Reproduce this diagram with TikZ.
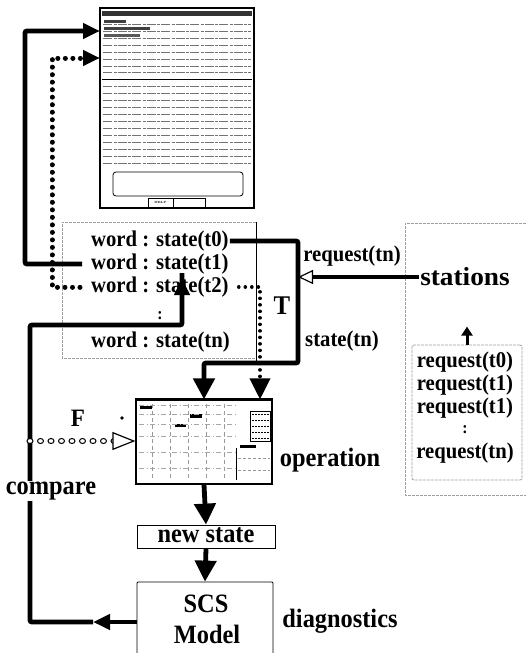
\documentclass[tikz,border=0pt]{standalone}
\usepackage{fontspec}
\newfontfamily\lblfont{Liberation Serif}[FakeStretch=0.92]
\newfontfamily\widefont{Liberation Serif}[FakeStretch=1.05]
\usetikzlibrary{arrows.meta,positioning,decorations.markings}

\tikzset{
  lbl/.style={font=\lblfont\bfseries\fontsize{22.5}{22.5}\selectfont, inner sep=1pt},
  biglbl/.style={font=\lblfont\bfseries\fontsize{26.5}{26.5}\selectfont, inner sep=1pt},
  dotslbl/.style={font=\lblfont\bfseries\fontsize{17}{17}\selectfont, inner sep=0pt},
  win/.style={draw, line width=1.2pt, inner sep=0pt},
  greybox/.style={draw=gray!75, line width=0.8pt, dash pattern=on 3pt off 1pt},
  thickline/.style={line width=4.8pt, rounded corners=2pt},
  flowsmall/.style={thickline, -{Triangle[length=17pt,width=15pt]}},
  flowbig/.style={thickline, -{Triangle[length=21pt,width=21pt]}},
  beads/.style={line width=5pt, line cap=round, dash pattern=on 0.01pt off 7.5pt},
  tbeads/.style={line width=3.6pt, line cap=round, dash pattern=on 0.01pt off 6.5pt},
  scrline/.style={black!55, line width=0.7pt, dash pattern=on 9pt off 1.5pt on 3pt off 1pt},
}

\begin{document}
\begin{tikzpicture}[x=1pt,y=-1pt]
\useasboundingbox (0,0) rectangle (526,653);

% screen of the terminal
\node[win, minimum width=154, minimum height=200] (scr) at (177,108) {};
\fill[black!80] (102,11) rectangle (252,16);
\fill[black!75] (104,20) rectangle (126,23);
\fill[black!75] (104,27) rectangle (150,30);
\fill[black!65] (104,34) rectangle (140,37);
\foreach \y in {24,31,38,45,52,59,66,72,86,93,100,107,114,121,128,135,142,149,156,163}
  \draw[scrline] (103,\y) -- (251,\y);
\draw[line width=1pt] (102,79) -- (252,79);
\draw[line width=0.8pt, rounded corners=3pt] (113,172) rectangle (243,196);
\draw[line width=0.8pt] (148,198) rectangle (205,207);
\draw[line width=0.8pt] (173,198) -- (173,207);
\node[font=\fontsize{3}{3}\selectfont\bfseries, inner sep=0] (help) at (160.5,202.5) {HELP};

% word list
\draw[greybox] (256,222) -- (62,222) -- (62,358) -- (256,358);
\draw[line width=0.8pt] (256,222) -- (256,362);
\node[lbl, anchor=west] (w0) at (90,241) {word : state(t0)};
\node[lbl, anchor=west] (w1) at (90,264) {word : state(t1)};
\node[lbl, anchor=west] (w2) at (90,287) {word : state(t2)};
\node[dotslbl] (wdots) at (160,316) {:};
\node[lbl, anchor=west] (wn) at (90,342) {word : state(tn)};

% stations
\draw[greybox] (530,223) -- (405,223) -- (405,495) -- (530,495);
\node[font=\widefont\bfseries\fontsize{26}{26}\selectfont, inner sep=1pt] (stations) at (465,277) {stations};
\node[greybox, rounded corners=2pt, minimum width=110, minimum height=135] (reqbox) at (467,412.5) {};
\node[lbl] (r0) at (465,362) {request(t0)};
\node[lbl] (r1) at (465,385) {request(t1)};
\node[lbl] (r2) at (465,408) {request(t1)};
\node[dotslbl] (rdots) at (465,430) {:};
\node[lbl] (rn) at (465,453) {request(tn)};
\draw[line width=3pt, -{Triangle[length=9pt,width=11pt]}] (reqbox.north) -- ++(0,-18);

% operation screen
\node[win, minimum width=136, minimum height=84] (op) at (204,442) {};
\draw[line width=2pt] (op.north west) -- (op.north east);
\fill (140,406) rectangle (152,409);
\fill (190,414) rectangle (202,418);
\fill (175,424) rectangle (186,427);
\fill (240,445) rectangle (256,448);
\foreach \y in {405,414,424,436,452,468}
  \draw[gray!70, line width=0.6pt, dash pattern=on 5pt off 3pt on 1pt off 2pt] (139,\y) -- (236,\y);
\foreach \x in {152,170,188,206,224}
  \draw[gray!80, line width=0.6pt, dash pattern=on 4pt off 3pt] (\x,404) -- (\x,480);
\foreach \y in {414,420,426,432,438}
  \draw[line width=0.6pt, dash pattern=on 2pt off 1pt] (252,\y) -- (269,\y);
\draw[line width=0.6pt] (250,411) rectangle (270,441);
\draw[line width=0.6pt] (236,448) -- (236,480);
\draw[gray!80, line width=0.6pt, dash pattern=on 3pt off 2pt] (238,458) -- (270,458);
\draw[gray!80, line width=0.6pt, dash pattern=on 3pt off 2pt] (238,470) -- (270,470);

% new state and model
\node[win, line width=0.8pt, minimum width=138, minimum height=23] (newst) at (206,536.5) {};
\node[biglbl] (newtxt) at (206,535) {new state};
\node[win, line width=0.8pt, rounded corners=1pt, minimum width=136, minimum height=80] (scs) at (205,622) {};
\node[biglbl] (scstxt) at (206,604) {SCS};
\node[biglbl] (modeltxt) at (207,634) {Model};

% labels
\node[lbl] (reqtn) at (352,256) {request(tn)};
\node[lbl] (statetn) at (342,341) {state(tn)};
\node[font=\lblfont\bfseries\fontsize{27}{27}\selectfont, inner sep=1pt] (tlbl) at (282,306) {T};
\node[font=\lblfont\bfseries\fontsize{25}{25}\selectfont, inner sep=1pt] (flbl) at (78,418) {F};
\node[biglbl] (oplbl) at (330,460) {operation};
\node[biglbl] (diag) at (340,621) {diagnostics};

% connectors
\coordinate (jn) at (298,363);
\draw[flowbig] (w0.east) -| (jn) -| (op.north);
\draw[line width=4.8pt, -{Triangle[open, fill=white, length=15pt, width=14pt, line width=1.2pt]}]
  (stations.west) -- (jn |- stations.west);

\coordinate (tj) at (260,287);
\draw[tbeads, shorten <=9pt, -{Triangle[length=21pt,width=20pt]}] (w2.east) -- (tj) -- (tj |- op.north);

\coordinate (in1) at (100,31);
\coordinate (in2) at (100,58);
\coordinate (lc) at (25,31);
\coordinate (lb) at (52,58);
\draw[flowsmall, shorten <=8pt] (w1.west) -| (lc) -- (in1);
\draw[beads, shorten <=10pt, -{Triangle[length=17pt,width=15pt]}] (w2.west) -| (lb) -- (in2);

\coordinate (cmarr) at (93,622);
\coordinate (cm1) at (30,622);
\coordinate (cm3) at (182,325);
\coordinate (cmtip) at (182,278);
\draw[flowsmall] (scs.west) -- (cmarr);
\draw[thickline] (cmarr) -- (cm1) |- (cm3) -- ([yshift=5]cmtip);
\draw[flowsmall] (cm3) -- (cmtip);
\node[biglbl, fill=white] (cmp) at (51,491) {compare};

\draw[flowbig] (op.south) -- (newst.north);
\draw[flowbig] (newst.south) -- (scs.north);

% false path
\coordinate (fs) at (30,441);
\coordinate (fa) at (115,441);
\path[decoration={markings, mark=between positions 0 and 1 step 10.5pt with
  {\draw[fill=white, line width=1pt] (0,0) ellipse (3pt and 2.5pt);}}, decorate] (fs) -- (fa);
\draw[line width=1.2pt, -{Triangle[open, fill=white, length=23pt, width=18pt]}] (fa) -- (op.west |- fs);
\fill (122,418) circle (1.8);

\end{tikzpicture}
\end{document}
